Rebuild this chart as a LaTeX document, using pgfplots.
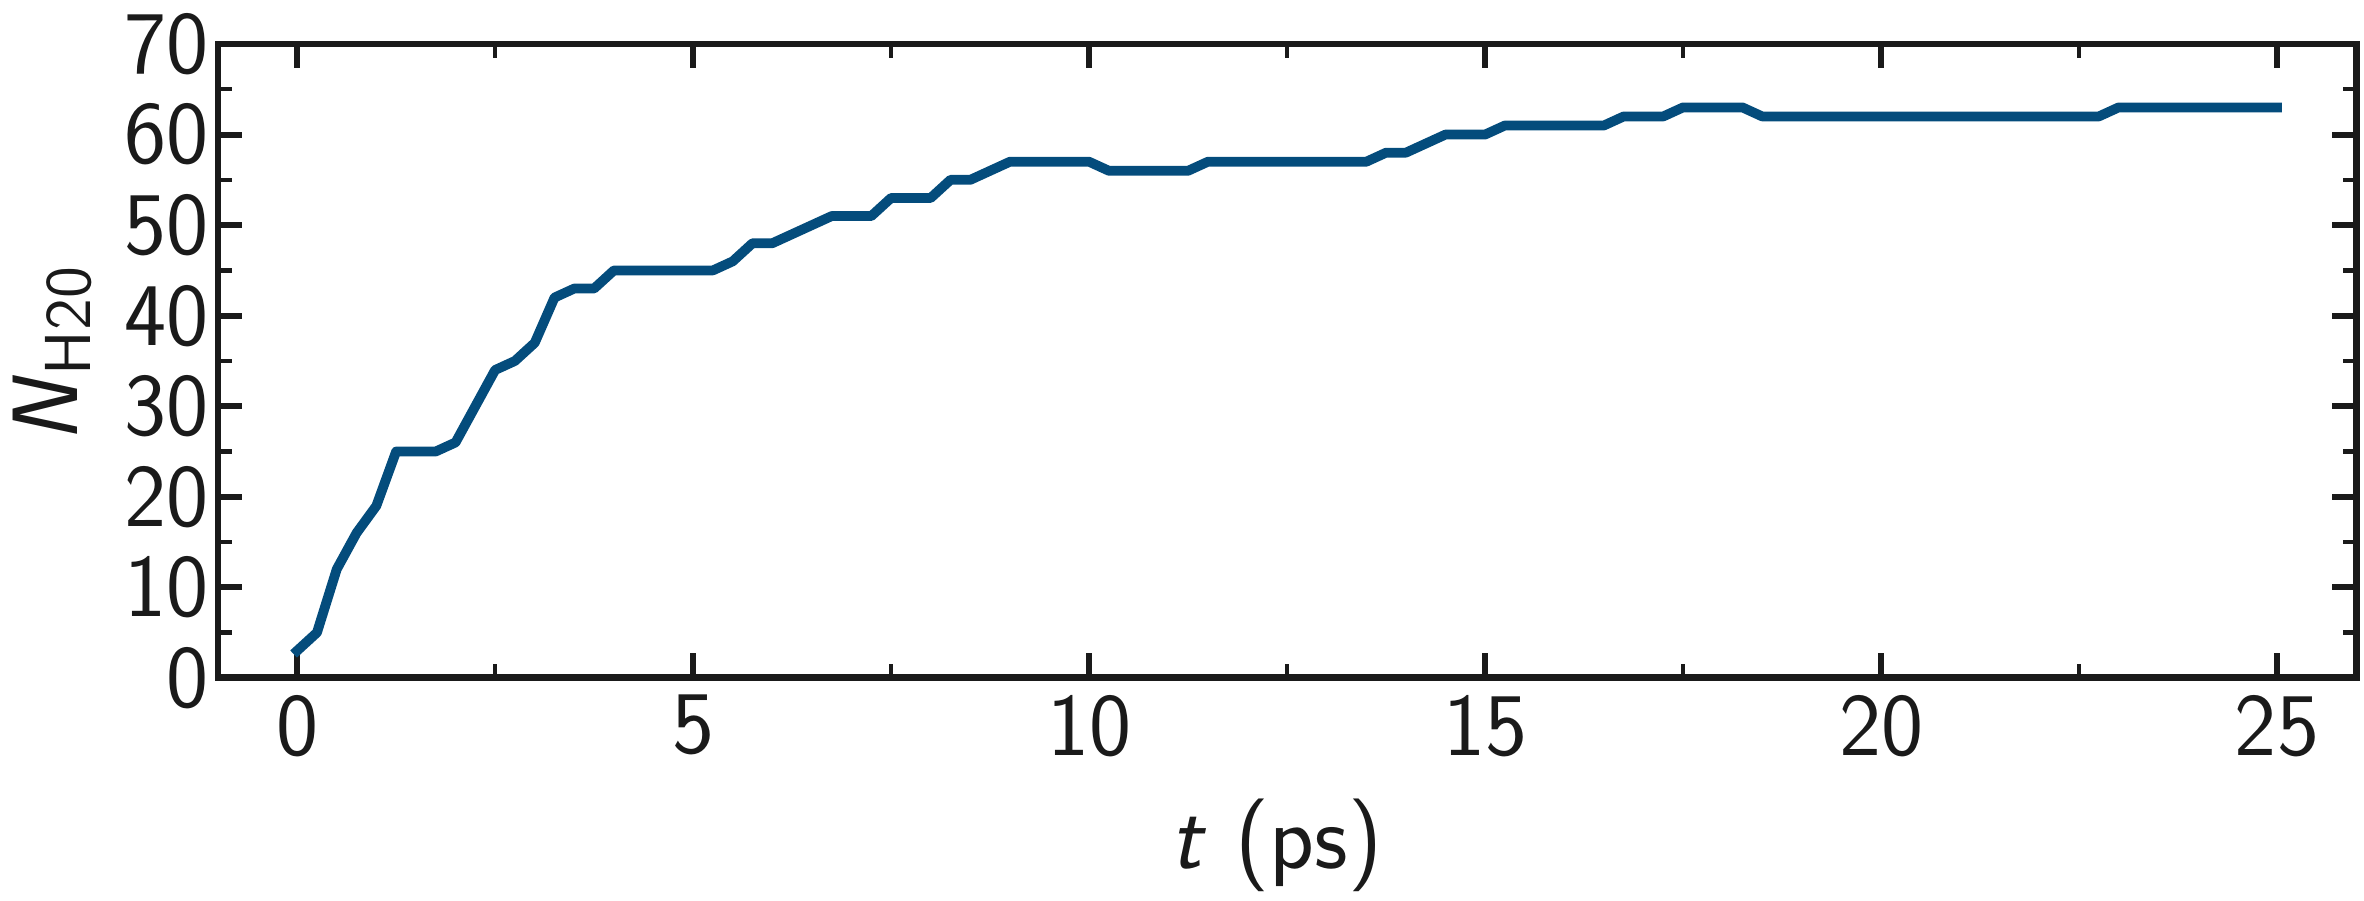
\documentclass[border=0pt]{standalone}
\usepackage{fontspec}
\usepackage{pgfplots}
\pgfplotsset{compat=1.18}
\definecolor{axcol}{HTML}{1A1A1A}
\definecolor{linecol}{RGB}{4,76,124}

\begin{document}
\begin{tikzpicture}
\path[use as bounding box] (-44.6pt,-45.6pt) rectangle (439.1pt,138.7pt);
\begin{axis}[
  scale only axis, width=437.5pt, height=129.7pt,
  xmin=-1, xmax=26, ymin=0, ymax=70,
  xtick={0,5,...,25}, ytick={0,10,...,70},
  minor x tick num=1, minor y tick num=1,
  tick align=inside, ticks=both,
  xtick pos=both, ytick pos=both,
  major tick length=5pt, minor tick length=2.8pt,
  every major tick/.append style={line width=1.2pt, axcol},
  every minor tick/.append style={line width=0.9pt, axcol},
  axis line style={line width=1.4pt, axcol},
  /pgf/number format/assume math mode=true,
  tick label style={font=\fontsize{18.3}{20}\selectfont\sffamily, text=axcol},
  yticklabel style={xshift=1.7pt},
  xlabel={\textit{t} (ps)},
  ylabel={\textit{N}\raisebox{-2.7pt}{\fontsize{13.3}{14}\selectfont H20}},
  label style={font=\fontsize{19}{21}\selectfont\sffamily, text=axcol},
  xlabel style={at={(axis description cs:0.5,0)}, anchor=center, yshift=-34.2pt, xshift=-2.2pt},
  ylabel style={at={(axis description cs:-0.0965,0.51)}, anchor=north, inner sep=0pt},
]
\addplot[line width=2pt, linecol, line join=round, line cap=rect] coordinates {
  (0,3) (0.25,5) (0.5,12) (0.75,16) (1,19) (1.25,25) (1.5,25) (1.75,25)
  (2,26) (2.25,30) (2.5,34) (2.75,35) (3,37) (3.25,42) (3.5,43) (3.75,43)
  (4,45) (4.25,45) (4.5,45) (4.75,45) (5,45) (5.25,45) (5.5,46) (5.75,48)
  (6,48) (6.25,49) (6.5,50) (6.75,51) (7,51) (7.25,51) (7.5,53) (7.75,53)
  (8,53) (8.25,55) (8.5,55) (8.75,56) (9,57) (9.25,57) (9.5,57) (9.75,57)
  (10,57) (10.25,56) (10.5,56) (10.75,56) (11,56) (11.25,56) (11.5,57) (11.75,57)
  (12,57) (12.25,57) (12.5,57) (12.75,57) (13,57) (13.25,57) (13.5,57) (13.75,58)
  (14,58) (14.25,59) (14.5,60) (14.75,60) (15,60) (15.25,61) (15.5,61) (15.75,61)
  (16,61) (16.25,61) (16.5,61) (16.75,62) (17,62) (17.25,62) (17.5,63) (17.75,63)
  (18,63) (18.25,63) (18.5,62) (18.75,62) (19,62) (19.25,62) (19.5,62) (19.75,62)
  (20,62) (20.25,62) (20.5,62) (20.75,62) (21,62) (21.25,62) (21.5,62) (21.75,62)
  (22,62) (22.25,62) (22.5,62) (22.75,62) (23,63) (23.25,63) (23.5,63) (23.75,63)
  (24,63) (24.25,63) (24.5,63) (24.75,63) (25,63)
};
\end{axis}
\end{tikzpicture}
\end{document}
